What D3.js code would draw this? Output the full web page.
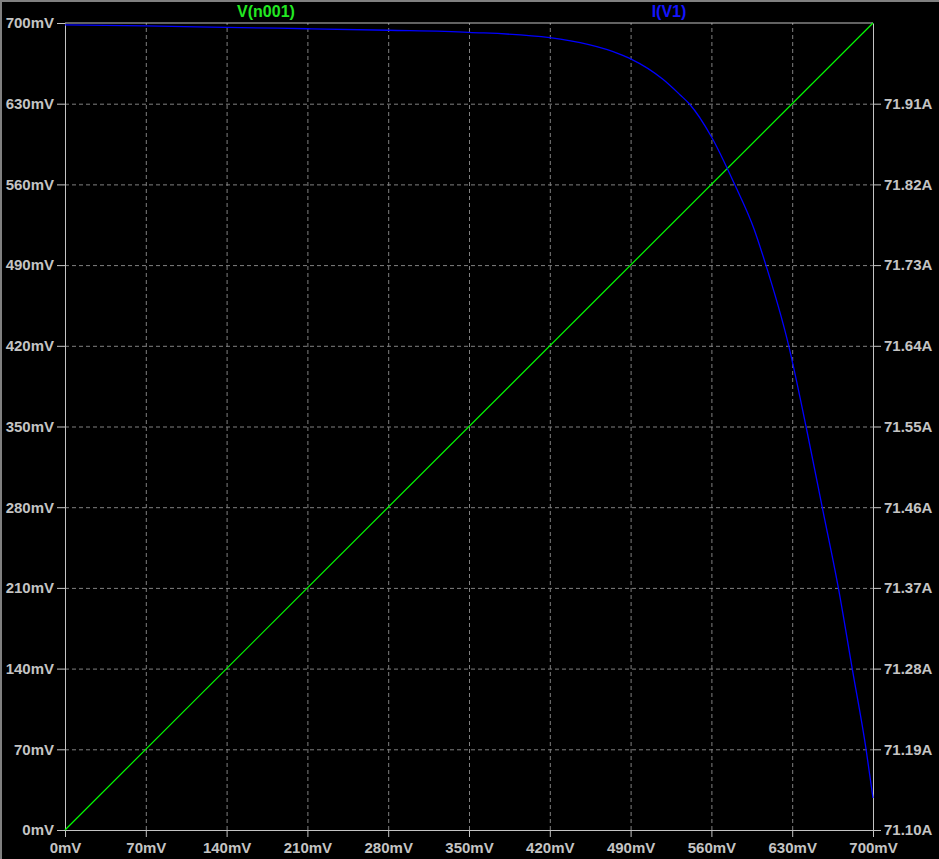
<!DOCTYPE html>
<html lang="en">
<head>
    <meta charset="UTF-8">
    <title>V(n001) and I(V1)</title>
    <script src="https://d3js.org/d3.v7.min.js"></script>
    <style>
        body {
            margin: 0;
            padding: 0;
            background: #000;
            overflow: hidden;
        }
        svg {
            display: block;
        }
        .tick text {
            font-family: "Liberation Sans", Arial, sans-serif;
            font-weight: bold;
            font-size: 15px;
            fill: #c4c4c4;
        }
        .grid line {
            stroke: #808080;
            stroke-dasharray: 4,3;
        }
    </style>
</head>
<body>
    <svg id="chart" width="939" height="859"></svg>

    <script>
        // sweep of V1 (mV) - x axis ticks
        const xTicks = [0, 70, 140, 210, 280, 350, 420, 490, 560, 630, 700];
        // left axis ticks (mV)
        const leftTicks = [0, 70, 140, 210, 280, 350, 420, 490, 560, 630, 700];
        // right axis ticks (A)
        const rightTicks = [71.10, 71.19, 71.28, 71.37, 71.46, 71.55, 71.64, 71.73, 71.82, 71.91];

        // V(n001) trace
        const nodeSweep = [0, 700];
        const nodeVolts = [0, 700];

        // I(V1) trace
        const currentSweep = [0, 70, 140, 210, 280, 350, 420, 481, 490, 518, 533, 541, 560, 580, 597, 606, 627, 642, 656, 670, 682, 694, 700];
        const currentAmps = [71.998, 71.9967, 71.9952, 71.9936, 71.9919, 71.9896, 71.9836, 71.965, 71.960, 71.9372, 71.9197, 71.9097, 71.8732, 71.8204, 71.770, 71.735, 71.64, 71.55, 71.46, 71.37, 71.28, 71.19, 71.1357];

        const svg = d3.select("#chart");
        const plotL = 65, plotR = 873, plotT = 23, plotB = 830;

        // window frame (top and left edge)
        svg.append("rect").attr("x", 0).attr("y", 0).attr("width", 939).attr("height", 2).attr("fill", "#808080");
        svg.append("rect").attr("x", 0).attr("y", 0).attr("width", 2).attr("height", 859).attr("fill", "#808080");

        const x = d3.scaleLinear().domain([0, 700]).range([plotL, plotR]);
        const yLeft = d3.scaleLinear().domain([0, 700]).range([plotB, plotT]);
        const yRight = d3.scaleLinear().domain([71.10, 72.00]).range([plotB, plotT]);

        // grid
        svg.append("g")
            .attr("class", "grid")
            .attr("transform", `translate(0,${plotB})`)
            .call(d3.axisBottom(x).tickValues(xTicks.slice(1, -1)).tickSize(-(plotB - plotT)).tickFormat(""))
            .call(g => g.select(".domain").remove());
        svg.append("g")
            .attr("class", "grid")
            .attr("transform", `translate(${plotL},0)`)
            .call(d3.axisLeft(yLeft).tickValues(leftTicks.slice(1, -1)).tickSize(-(plotR - plotL)).tickFormat(""))
            .call(g => g.select(".domain").remove());

        const axisColor = "#c4c4c4";
        function styleAxis(g) {
            g.select(".domain").attr("stroke", axisColor);
            g.selectAll(".tick line").attr("stroke", axisColor);
        }

        svg.append("g")
            .attr("transform", `translate(0,${plotB})`)
            .call(d3.axisBottom(x).tickValues(xTicks).tickSize(7).tickSizeOuter(0).tickPadding(5)
                .tickFormat(d => d + "mV"))
            .call(styleAxis);

        svg.append("g")
            .attr("transform", `translate(${plotL},0)`)
            .call(d3.axisLeft(yLeft).tickValues(leftTicks).tickSize(8).tickSizeOuter(0).tickPadding(3)
                .tickFormat(d => d + "mV"))
            .call(styleAxis);

        svg.append("g")
            .attr("transform", `translate(${plotR},0)`)
            .call(d3.axisRight(yRight).tickValues(rightTicks).tickSize(8).tickSizeOuter(0).tickPadding(3)
                .tickFormat(d => d.toFixed(2) + "A"))
            .call(styleAxis);

        // top frame line
        svg.append("line")
            .attr("x1", plotL).attr("x2", plotR).attr("y1", plotT).attr("y2", plotT)
            .attr("stroke", axisColor);

        // traces
        const greenData = nodeSweep.map((v, i) => [v, nodeVolts[i]]);
        svg.append("path")
            .datum(greenData)
            .attr("fill", "none")
            .attr("stroke", "#00ff00")
            .attr("stroke-width", 1.2)
            .attr("d", d3.line().x(d => x(d[0])).y(d => yLeft(d[1])));

        const blueData = currentSweep.map((v, i) => [v, currentAmps[i]]);
        svg.append("path")
            .datum(blueData)
            .attr("fill", "none")
            .attr("stroke", "#0000ff")
            .attr("stroke-width", 1.3)
            .attr("d", d3.line().curve(d3.curveMonotoneX).x(d => x(d[0])).y(d => yRight(d[1])));

        // trace names
        svg.append("text")
            .attr("x", 266).attr("y", 17)
            .attr("text-anchor", "middle")
            .attr("font-family", "Liberation Sans, Arial, sans-serif")
            .attr("font-weight", "bold")
            .attr("font-size", "16px")
            .attr("fill", "#22e822")
            .text("V(n001)");

        svg.append("text")
            .attr("x", 669).attr("y", 17)
            .attr("text-anchor", "middle")
            .attr("font-family", "Liberation Sans, Arial, sans-serif")
            .attr("font-weight", "bold")
            .attr("font-size", "16px")
            .attr("fill", "#1414ff")
            .text("I(V1)");
    </script>
</body>
</html>
